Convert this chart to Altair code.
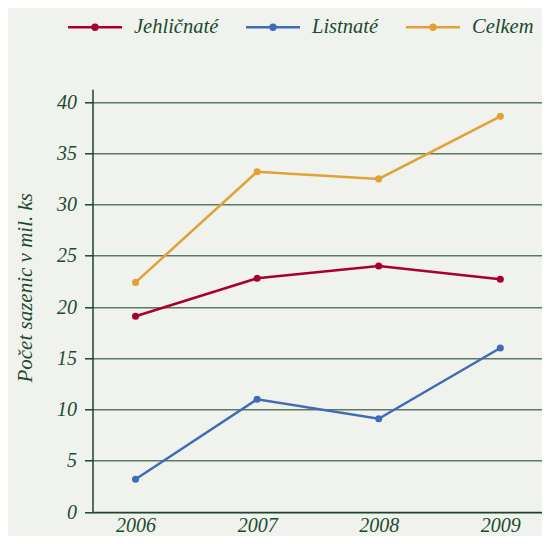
import altair as alt
import pandas as pd

years = [2006, 2007, 2008, 2009]
series_names = ["Jehličnaté", "Listnaté", "Celkem"]
jehlicnate = [19.1, 22.8, 24.0, 22.7]
listnate = [3.2, 11.0, 9.1, 16.0]
celkem = [22.4, 33.2, 32.5, 38.6]
series_colors = ["#a8002c", "#3f6db5", "#e3a034"]
y_ticks = [0, 5, 10, 15, 20, 25, 30, 35, 40]

rows = []
for name, vals in zip(series_names, [jehlicnate, listnate, celkem]):
    for yr, v in zip(years, vals):
        rows.append({"rok": yr, "hodnota": v, "druh": name})
df = pd.DataFrame(rows)

TEXT = "#1c4a2c"
AXIS = "#1d4529"
GRID = "#5a7b60"
FONT = "Liberation Serif"

legend_path = ("M-1,0H1"
               "M-0.09,0A0.09,0.09,0,1,0,0.09,0A0.09,0.09,0,1,0,-0.09,0"
               "M-0.04,0A0.04,0.04,0,1,0,0.04,0A0.04,0.04,0,1,0,-0.04,0")

chart = alt.Chart(df).mark_line(
    strokeWidth=2.5,
    point=alt.OverlayMarkDef(filled=True, size=50),
).encode(
    x=alt.X("rok:Q",
            scale=alt.Scale(domain=[2005.646, 2009.343], nice=False, zero=False),
            axis=alt.Axis(values=years, format="d", title=None, ticks=False,
                          grid=False, labelPadding=3, domainColor=AXIS,
                          domainWidth=1.5, labelFont=FONT, labelFontSize=20,
                          labelFontStyle="italic", labelColor=TEXT)),
    y=alt.Y("hodnota:Q",
            scale=alt.Scale(domain=[0, 41.24], nice=False),
            axis=alt.Axis(values=y_ticks, title="Počet sazenic v mil. ks",
                          tickSize=8, tickColor=AXIS, tickWidth=1.5,
                          labelPadding=8, grid=True, gridColor=GRID,
                          gridWidth=1.5, domainColor=AXIS, domainWidth=1.5,
                          labelFont=FONT, labelFontSize=20,
                          labelFontStyle="italic", labelColor=TEXT,
                          titleFont=FONT, titleFontSize=21,
                          titleFontStyle="italic", titleFontWeight="normal",
                          titleColor=TEXT, titleX=-61.5, titleY=198,
                          titleBaseline="alphabetic", titleAlign="center",
                          titleAngle=270)),
    color=alt.Color("druh:N",
                    scale=alt.Scale(domain=series_names, range=series_colors),
                    legend=alt.Legend(orient="none", legendX=-26,
                                      legendY=-90.5, direction="horizontal",
                                      title=None, symbolType=legend_path,
                                      symbolSize=2916, symbolStrokeWidth=2.5,
                                      labelFont=FONT, labelFontSize=20.5,
                                      labelFontStyle="italic",
                                      labelColor=TEXT, labelOffset=10.5,
                                      columnPadding=22, padding=0)),
).properties(
    width=449.5,
    height=422.7,
    autosize=alt.AutoSizeParams(type="none"),
    padding={"left": 84.5, "top": 81.3, "right": 0, "bottom": 24},
    background="#f0f2ee",
).configure_view(stroke=None)

chart.save("out.html", embed_options={"renderer": "svg", "actions": False})
